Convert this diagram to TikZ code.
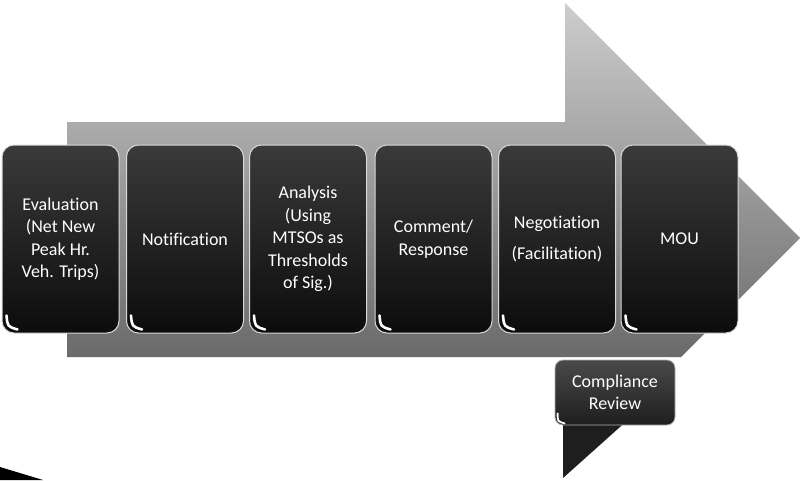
\documentclass[tikz,border=0pt]{standalone}
\usepackage{fontspec}
\setmainfont{Carlito}[Ligatures=NoCommon]
\definecolor{arrtop}{HTML}{CDCDCD}
\definecolor{arrbot}{HTML}{6A6A6A}
\definecolor{boxtop}{HTML}{3A3A3A}
\definecolor{boxbot}{HTML}{0C0C0C}
\definecolor{calltop}{HTML}{4A4A4A}
\definecolor{callbot}{HTML}{1E1E1E}
\begin{document}
\begin{tikzpicture}[x=1pt,y=-1pt,
  stepbox/.style={rounded corners=12pt, minimum width=117pt, minimum height=188pt,
    top color=boxtop, bottom color=boxbot, draw=white!85!black, line width=1pt,
    text=white, align=center, font=\fontsize{18}{22.5}\selectfont, inner sep=2pt},
  callbox/.style={rounded corners=8pt, minimum width=120pt, minimum height=65pt,
    top color=calltop, bottom color=callbot, draw=white!70!black, line width=0.8pt,
    text=white, align=center, font=\fontsize{18}{22}\selectfont, inner sep=2pt},
  glint/.style={white, line width=2.6pt, line cap=round}
]
\useasboundingbox (0,0) rectangle (801,480);
% dark wedge bottom-left
\fill[black] (0,467) -- (43,480) -- (0,480) -- cycle;
% big arrow
\shade[top color=arrtop, bottom color=arrbot]
  (67,122) -- (565,122) -- (565,3) -- (800,238) -- (681,357) -- (67,357) -- cycle;
% steps
\node[stepbox] (eval) at (60.5,239) {Evaluation\\(Net New\\Peak Hr.\\Veh. Trips)};
\node[stepbox] (notif) at (185,239) {Notification};
\node[stepbox] (anal) at (308,239) {Analysis\\(Using\\MTSOs as\\Thresholds\\of Sig.)};
\node[stepbox] (comm) at (433.5,239) {Comment/\\Response};
\node[stepbox] (nego) at (557,239) {Negotiation\\[8pt](Facilitation)};
\node[stepbox] (mou) at (679.5,239) {MOU};
\foreach \n in {eval,notif,anal,comm,nego,mou}{
  \draw[glint] ([xshift=5pt,yshift=18pt]\n.south west) .. controls ([xshift=6pt,yshift=7pt]\n.south west) .. ([xshift=16pt,yshift=4pt]\n.south west);
}
% callout
\fill[callbot] (563,418) -- (563,478) -- (630,418) -- cycle;
\node[callbox] (comp) at (615,392.5) {Compliance\\Review};
\draw[glint, line width=1.8pt] ([xshift=3pt,yshift=12pt]comp.south west) .. controls ([xshift=3pt,yshift=4pt]comp.south west) .. ([xshift=10pt,yshift=2pt]comp.south west);
\end{tikzpicture}
\end{document}
